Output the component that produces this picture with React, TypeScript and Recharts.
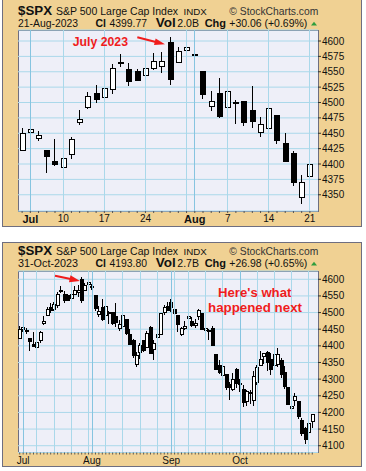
import React from 'react';
import { ComposedChart, Bar, XAxis, YAxis, CartesianGrid, ReferenceLine } from 'recharts';

const FONT = '"Liberation Sans", Arial, Helvetica, sans-serif';
const RED = '#F01C1C';
const TAN = '#F0D193';
const FRAME = '#6E6E80';
const PLOT_BG = '#EEEFF8';
const GRID = '#AAD8EA';
const GRID_MONTH = '#86C4E0';

// Trading days Jun 30 – Oct 31, 2023 ($SPX daily OHLC)
const dates = [
  '2023-06-30', '2023-07-03', '2023-07-05', '2023-07-06', '2023-07-07',
  '2023-07-10', '2023-07-11', '2023-07-12', '2023-07-13', '2023-07-14',
  '2023-07-17', '2023-07-18', '2023-07-19', '2023-07-20', '2023-07-21',
  '2023-07-24', '2023-07-25', '2023-07-26', '2023-07-27', '2023-07-28',
  '2023-07-31', '2023-08-01', '2023-08-02', '2023-08-03', '2023-08-04',
  '2023-08-07', '2023-08-08', '2023-08-09', '2023-08-10', '2023-08-11',
  '2023-08-14', '2023-08-15', '2023-08-16', '2023-08-17', '2023-08-18',
  '2023-08-21', '2023-08-22', '2023-08-23', '2023-08-24', '2023-08-25',
  '2023-08-28', '2023-08-29', '2023-08-30', '2023-08-31', '2023-09-01',
  '2023-09-05', '2023-09-06', '2023-09-07', '2023-09-08',
  '2023-09-11', '2023-09-12', '2023-09-13', '2023-09-14', '2023-09-15',
  '2023-09-18', '2023-09-19', '2023-09-20', '2023-09-21', '2023-09-22',
  '2023-09-25', '2023-09-26', '2023-09-27', '2023-09-28', '2023-09-29',
  '2023-10-02', '2023-10-03', '2023-10-04', '2023-10-05', '2023-10-06',
  '2023-10-09', '2023-10-10', '2023-10-11', '2023-10-12', '2023-10-13',
  '2023-10-16', '2023-10-17', '2023-10-18', '2023-10-19', '2023-10-20',
  '2023-10-23', '2023-10-24', '2023-10-25', '2023-10-26', '2023-10-27',
  '2023-10-30', '2023-10-31',
];

const opens = [
  4422.44, 4450.48, 4442.04, 4422.62, 4404.54,
  4394.23, 4415.55, 4467.69, 4491.5, 4514.61,
  4508.86, 4521.78, 4563.87, 4554.38, 4550.16,
  4543.39, 4555.19, 4558.96, 4598.26, 4565.75,
  4584.82, 4578.83, 4550.93, 4494.27, 4513.96,
  4491.58, 4498.03, 4501.57, 4487.16, 4450.69,
  4458.13, 4478.87, 4433.79, 4416.32, 4344.88,
  4380.28, 4415.33, 4396.44, 4455.16, 4389.38,
  4426.03, 4432.75, 4500.34, 4517.01, 4530.6,
  4510.06, 4490.35, 4434.55, 4451.3,
  4480.98, 4473.27, 4462.65, 4487.78, 4497.98,
  4445.13, 4445.41, 4452.81, 4374.36, 4341.74,
  4310.62, 4312.88, 4282.63, 4269.65, 4328.18,
  4284.52, 4269.75, 4233.83, 4259.31, 4234.79,
  4289.02, 4339.75, 4366.59, 4380.94, 4360.49,
  4342.37, 4345.23, 4357.35, 4321.36, 4273.85,
  4210.4, 4235.79, 4232.42, 4175.99, 4152.93,
  4139.39, 4171.33,
];

const highs = [
  4458.48, 4456.46, 4454.06, 4422.62, 4440.39,
  4412.6, 4443.64, 4488.34, 4517.38, 4527.76,
  4532.85, 4562.3, 4578.43, 4564.74, 4555.0,
  4563.41, 4580.62, 4582.47, 4607.07, 4590.16,
  4594.22, 4584.62, 4550.93, 4519.49, 4540.34,
  4519.84, 4503.31, 4502.44, 4527.37, 4476.23,
  4490.33, 4478.87, 4449.95, 4421.17, 4381.82,
  4407.55, 4418.59, 4443.18, 4458.3, 4418.46,
  4439.56, 4500.14, 4521.65, 4532.26, 4541.25,
  4514.29, 4490.35, 4457.81, 4473.53,
  4490.77, 4487.11, 4479.39, 4511.99, 4497.98,
  4466.36, 4449.85, 4461.03, 4375.7, 4357.4,
  4338.51, 4313.01, 4292.07, 4317.27, 4333.15,
  4300.58, 4281.15, 4268.5, 4267.13, 4324.1,
  4341.73, 4385.46, 4378.64, 4385.85, 4377.1,
  4383.33, 4393.57, 4364.2, 4339.54, 4276.56,
  4255.84, 4259.38, 4232.42, 4183.6, 4156.7,
  4177.47, 4195.55,
];

const lows = [
  4422.44, 4442.29, 4436.61, 4385.05, 4397.4,
  4389.92, 4408.46, 4463.23, 4489.36, 4499.56,
  4504.9, 4514.59, 4557.48, 4527.56, 4535.79,
  4541.29, 4552.42, 4547.58, 4528.56, 4564.01,
  4573.14, 4567.53, 4505.75, 4485.54, 4474.55,
  4491.15, 4464.39, 4461.33, 4457.92, 4443.98,
  4453.44, 4432.19, 4403.55, 4364.83, 4335.31,
  4360.3, 4382.77, 4396.44, 4375.55, 4356.29,
  4414.98, 4431.68, 4493.59, 4507.39, 4501.35,
  4496.01, 4442.38, 4430.46, 4448.38,
  4467.89, 4456.83, 4453.52, 4478.69, 4447.21,
  4442.11, 4416.61, 4401.38, 4329.17, 4316.49,
  4302.7, 4265.98, 4238.63, 4264.38, 4274.86,
  4260.21, 4216.45, 4220.48, 4225.91, 4219.55,
  4283.79, 4339.64, 4345.34, 4325.43, 4311.97,
  4342.37, 4337.54, 4303.84, 4269.69, 4223.03,
  4189.22, 4219.43, 4181.42, 4127.9, 4103.78,
  4132.94, 4153.12,
];

const closes = [
  4450.38, 4455.59, 4446.82, 4411.59, 4398.95,
  4409.53, 4439.26, 4472.16, 4510.04, 4505.42,
  4522.79, 4554.98, 4565.72, 4534.87, 4536.34,
  4554.64, 4567.46, 4566.75, 4537.41, 4582.23,
  4588.96, 4576.73, 4513.39, 4501.89, 4478.03,
  4518.44, 4499.38, 4467.71, 4468.83, 4464.05,
  4489.72, 4437.86, 4404.33, 4370.36, 4369.71,
  4399.77, 4387.55, 4436.01, 4376.31, 4405.71,
  4433.31, 4497.63, 4514.87, 4507.66, 4515.77,
  4496.83, 4465.48, 4451.14, 4457.49,
  4487.46, 4461.9, 4467.44, 4505.1, 4450.32,
  4453.53, 4443.95, 4402.2, 4330.0, 4320.06,
  4337.44, 4273.53, 4274.51, 4299.7, 4288.05,
  4288.39, 4229.45, 4263.75, 4258.19, 4308.5,
  4335.66, 4358.24, 4376.95, 4349.61, 4327.78,
  4373.63, 4373.2, 4314.6, 4278.0, 4224.16,
  4217.04, 4247.68, 4186.77, 4137.23, 4117.37,
  4166.82, 4193.8,
];

const topCount = 36; // Jun 30 – Aug 21

// Axis ticks and labels
const topPriceTicks = [4350, 4375, 4400, 4425, 4450, 4475, 4500, 4525, 4550, 4575, 4600];
const bottomPriceTicks = [4100, 4150, 4200, 4250, 4300, 4350, 4400, 4450, 4500, 4550, 4600];

const topTickDates = ['2023-07-03', '2023-07-10', '2023-07-17', '2023-07-24', '2023-08-01', '2023-08-07', '2023-08-14', '2023-08-21'];
const topTickLabels = ['Jul', '10', '17', '24', 'Aug', '7', '14', '21'];
const topBoldLabels = ['Jul', 'Aug'];
const bottomTickDates = ['2023-07-03', '2023-08-01', '2023-09-01', '2023-10-02'];
const bottomTickLabels = ['Jul', 'Aug', 'Sep', 'Oct'];

const topWeekLines = ['2023-07-10', '2023-07-17', '2023-07-24', '2023-07-31', '2023-08-07', '2023-08-14', '2023-08-21'];
const topMonthLines = ['2023-07-03', '2023-08-01'];
const bottomWeekLines = [
  '2023-07-10', '2023-07-17', '2023-07-24', '2023-07-31', '2023-08-07', '2023-08-14', '2023-08-21',
  '2023-08-28', '2023-09-05', '2023-09-11', '2023-09-18', '2023-09-25', '2023-10-09', '2023-10-16',
  '2023-10-23', '2023-10-30',
];
const bottomMonthLines = ['2023-07-03', '2023-08-01', '2023-09-01', '2023-10-02'];

const topHeader = { date: '21-Aug-2023', close: '4399.77', vol: '2.0B', chg: '+30.06 (+0.69%)' };
const bottomHeader = { date: '31-Oct-2023', close: '4193.80', vol: '2.7B', chg: '+26.98 (+0.65%)' };
const TITLE = 'S&P 500 Large Cap Index';

const allRows = dates.map((date, i) => ({
  date,
  open: opens[i],
  high: highs[i],
  low: lows[i],
  close: closes[i],
  range: [lows[i], highs[i]],
}));
const topRows = allRows.slice(0, topCount);

function makeCandle(bodyHalf: number) {
  return (props: any) => {
    const { x, y, width, height, payload } = props;
    if (x == null || y == null || !payload) return <g />;
    const top = Math.min(y, y + height);
    const bottom = Math.max(y, y + height);
    const { open, high, low, close } = payload;
    const span = high - low || 1;
    const toY = (v: number) => bottom - ((v - low) / span) * (bottom - top);
    const cx = Math.floor(x + width / 2) + 0.5;
    const yo = toY(open);
    const yc = toY(close);
    const bTop = Math.min(yo, yc);
    const bH = Math.max(Math.abs(yo - yc), 1);
    const up = close >= open;
    return (
      <g>
        <line x1={cx} x2={cx} y1={top} y2={bottom} stroke="#000" strokeWidth={1} shapeRendering="crispEdges" />
        <rect
          x={cx - bodyHalf}
          y={bTop}
          width={bodyHalf * 2}
          height={bH}
          fill={up ? '#FFFFFF' : '#000000'}
          stroke="#000"
          strokeWidth={1}
          shapeRendering="crispEdges"
        />
      </g>
    );
  };
}

type ChartProps = {
  rows: any[];
  top: number;
  height: number;
  xAxisHeight: number;
  yDomain: [number, number];
  yTicks: number[];
  tickDates: string[];
  tickLabels: string[];
  boldLabels: string[];
  weekLines: string[];
  monthLines: string[];
  barSize: number;
  bodyHalf: number;
};

function CandleChart(p: ChartProps) {
  const XTick = (props: any) => {
    const { x, y, payload } = props;
    const i = p.tickDates.indexOf(payload && payload.value);
    if (i < 0) return <g />;
    const label = p.tickLabels[i];
    const bold = p.boldLabels.includes(label);
    return (
      <text
        x={x}
        y={y}
        dy="0.71em"
        textAnchor="middle"
        fontFamily={FONT}
        fontSize={bold ? 11 : 10}
        fontWeight={bold ? 700 : 400}
        fill="#111"
      >
        {label}
      </text>
    );
  };
  return (
    <div style={{ position: 'absolute', left: 0, top: p.top }}>
      <ComposedChart width={366} height={p.height} data={p.rows} margin={{ top: 30, right: 4, bottom: 0, left: 18 }}>
        <CartesianGrid vertical={false} stroke={GRID} />
        {p.weekLines.map((d) => (
          <ReferenceLine key={'w' + d} x={d} stroke={GRID} strokeWidth={1} shapeRendering="crispEdges" />
        ))}
        {p.monthLines.map((d) => (
          <ReferenceLine key={'m' + d} x={d} stroke={GRID_MONTH} strokeWidth={1} shapeRendering="crispEdges" />
        ))}
        <XAxis
          dataKey="date"
          type="category"
          interval={0}
          height={p.xAxisHeight}
          padding={{ left: 0, right: 4 }}
          axisLine={false}
          tickSize={2}
          tickMargin={2}
          tickLine={{ stroke: '#555' }}
          tick={XTick}
        />
        <YAxis
          orientation="right"
          width={44}
          domain={p.yDomain}
          ticks={p.yTicks}
          interval={0}
          allowDataOverflow
          axisLine={false}
          tickSize={3}
          tickMargin={1}
          tickLine={{ stroke: '#333' }}
          tick={{ fontSize: 10, fill: '#111', fontFamily: FONT }}
        />
        <Bar dataKey="range" barSize={p.barSize} shape={makeCandle(p.bodyHalf)} isAnimationActive={false} />
      </ComposedChart>
    </div>
  );
}

function Header({ dy, info }: { dy: number; info: typeof topHeader }) {
  const b1 = 15 + dy;
  const b2 = 26.8 + dy;
  const adj = 'spacingAndGlyphs';
  return (
    <g fontFamily={FONT} fill="#111">
      <text x={18} y={b1} fontSize={13} fontWeight={700} textLength={34} lengthAdjust={adj}>$SPX</text>
      <text x={56} y={b1} fontSize={10.5} textLength={122} lengthAdjust={adj}>{TITLE}</text>
      <text x={183.5} y={b1} fontSize={9.8} textLength={23.3} lengthAdjust={adj}>INDX</text>
      <text x={229.3} y={b1} fontSize={10.3} fill="#333" textLength={89} lengthAdjust={adj}>© StockCharts.com</text>
      <text x={18} y={b2} fontSize={10.4} textLength={60} lengthAdjust={adj}>{info.date}</text>
      <text x={95.5} y={b2} fontSize={10.5} fontWeight={700}>Cl</text>
      <text x={109.5} y={b2} fontSize={10.4}>{info.close}</text>
      <text x={155.7} y={b2} fontSize={12} fontWeight={700} textLength={20} lengthAdjust={adj}>Vol</text>
      <text x={177.3} y={b2} fontSize={10.5} textLength={21.7} lengthAdjust={adj}>{info.vol}</text>
      <text x={204.7} y={b2} fontSize={11} fontWeight={700} textLength={21.3} lengthAdjust={adj}>Chg</text>
      <text x={229.3} y={b2} fontSize={10.4} textLength={78} lengthAdjust={adj}>{info.chg}</text>
      <polygon points={`311,${25.6 + dy} 317,${25.6 + dy} 314,${21.8 + dy}`} fill="#2E9E3E" />
    </g>
  );
}

function Arrow({ x1, y1, x2, y2, head, half }: { x1: number; y1: number; x2: number; y2: number; head: number; half: number }) {
  const dx = x2 - x1;
  const dy = y2 - y1;
  const len = Math.hypot(dx, dy);
  const ux = dx / len;
  const uy = dy / len;
  const bx = x2 - ux * head;
  const by = y2 - uy * head;
  const px = -uy * half;
  const py = ux * half;
  return (
    <g>
      <line x1={x1} y1={y1} x2={bx + ux} y2={by + uy} stroke={RED} strokeWidth={2} />
      <polygon points={`${x2},${y2} ${bx + px},${by + py} ${bx - px},${by - py}`} fill={RED} />
    </g>
  );
}

function PanelBox({ top, height }: { top: number; height: number }) {
  return (
    <div
      style={{
        position: 'absolute',
        left: 2,
        top,
        width: 360,
        height,
        background: TAN,
        border: `1px solid ${FRAME}`,
        boxSizing: 'border-box',
      }}
    />
  );
}

function PlotBg({ top }: { top: number }) {
  return (
    <div
      style={{
        position: 'absolute',
        left: 18,
        top,
        width: 301,
        height: 182,
        background: PLOT_BG,
        border: `1px solid ${FRAME}`,
        boxSizing: 'border-box',
      }}
    />
  );
}

export default function App() {
  return (
    <div style={{ position: 'absolute', left: 0, top: 0, width: 366, height: 471, background: '#FFFFFF', overflow: 'hidden' }}>
      <PanelBox top={-1} height={228} />
      <PanelBox top={242} height={225} />
      <PlotBg top={30} />
      <PlotBg top={271} />
      <CandleChart
        rows={topRows}
        top={0}
        height={226}
        xAxisHeight={15}
        yDomain={[4323.6, 4617.9]}
        yTicks={topPriceTicks}
        tickDates={topTickDates}
        tickLabels={topTickLabels}
        boldLabels={topBoldLabels}
        weekLines={topWeekLines}
        monthLines={topMonthLines}
        barSize={6}
        bodyHalf={2.5}
      />
      <CandleChart
        rows={allRows}
        top={241}
        height={227}
        xAxisHeight={15.5}
        yDomain={[4079.6, 4624.9]}
        yTicks={bottomPriceTicks}
        tickDates={bottomTickDates}
        tickLabels={bottomTickLabels}
        boldLabels={[]}
        weekLines={bottomWeekLines}
        monthLines={bottomMonthLines}
        barSize={3}
        bodyHalf={1.5}
      />
      <svg
        width={366}
        height={471}
        style={{ position: 'absolute', left: 0, top: 0, pointerEvents: 'none' }}
      >
        <Header dy={0} info={topHeader} />
        <Header dy={240} info={bottomHeader} />
        <text x={72.7} y={46} fontFamily={FONT} fontSize={13} fontWeight={700} fill={RED} textLength={55.3} lengthAdjust="spacingAndGlyphs">
          July 2023
        </text>
        <Arrow x1={137.3} y1={37.3} x2={165} y2={44.3} head={10.5} half={3.4} />
        <Arrow x1={55} y1={275.7} x2={80} y2={281} head={10.5} half={3.6} />
        <text x={254.7} y={296.7} fontFamily={FONT} fontSize={13} fontWeight={700} fill={RED} textAnchor="middle" textLength={73.3} lengthAdjust="spacingAndGlyphs">
          Here's what
        </text>
        <text x={255} y={312.3} fontFamily={FONT} fontSize={13} fontWeight={700} fill={RED} textAnchor="middle" textLength={94} lengthAdjust="spacingAndGlyphs">
          happened next
        </text>
      </svg>
    </div>
  );
}
